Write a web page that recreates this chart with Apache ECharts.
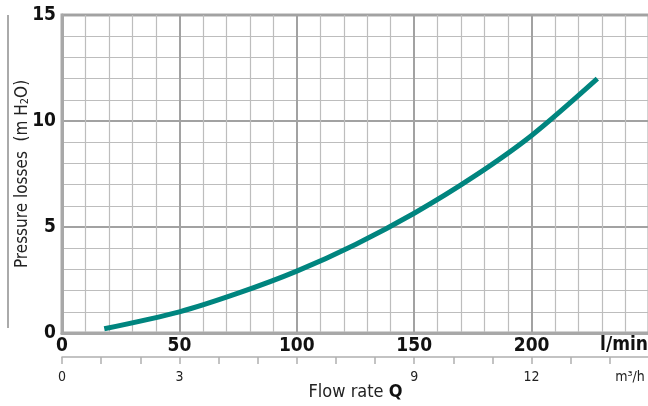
<!DOCTYPE html>
<html><head><meta charset="utf-8">
<script src="https://cdn.jsdelivr.net/npm/echarts@6/dist/echarts.min.js"></script>
<style>html,body{margin:0;padding:0;background:#fff}#c{width:648px;height:406px}</style>
</head><body><div id="c"></div>
<script>
// Flow rate (l/min) and pressure loss (m H2O)
var flowLmin = [18, 50, 75, 100, 125, 150, 175, 200, 228];
var pressure = [0.2, 1.0, 1.88, 2.92, 4.18, 5.65, 7.35, 9.32, 12.0];
var m3hLabels = [0, 3, 9, 12];
var FONT = "'Liberation Sans Narrow','DejaVu Sans Condensed','Roboto Condensed','Noto Sans',sans-serif";

var chart = echarts.init(document.getElementById('c'));
var data = flowLmin.map(function (x, i) { return [x, pressure[i]]; });
chart.setOption({
  animation: false,
  grid: { left: 62, top: 15, width: 587, height: 318, show: true, borderColor: '#a8a8a8', borderWidth: 3,
    containLabel: false, outerBoundsMode: 'none' },
  xAxis: [{
    type: 'value', min: 0, max: 250, interval: 50,
    axisLine: { show: true, lineStyle: { color: '#a8a8a8', width: 3 } },
    axisTick: { show: false },
    axisLabel: { color: '#111', fontFamily: FONT, fontWeight: 'bold', fontSize: 19, margin: 4,
      formatter: function (v) { return v >= 250 ? '' : String(v); } },
    splitLine: { show: true, lineStyle: { color: '#a2a2a2', width: 2 } },
    minorTick: { show: false, splitNumber: 5 },
    minorSplitLine: { show: true, lineStyle: { color: '#bdbdbd', width: 1.2 } }
  }, {
    type: 'value', min: 0, max: 15, interval: 1, position: 'bottom', offset: 24,
    axisLine: { show: true, lineStyle: { color: '#b0b0b0', width: 1.5 } },
    axisTick: { show: true, length: 7, lineStyle: { color: '#b0b0b0', width: 1.5 } },
    axisLabel: { color: '#222', fontFamily: FONT, fontSize: 14, margin: 13,
      formatter: function (v) { return m3hLabels.indexOf(v) >= 0 ? String(v) : ''; } },
    splitLine: { show: false },
    name: 'Flow rate {b|Q}', nameLocation: 'middle', nameGap: 26, nameMoveOverlap: false,
    nameTextStyle: { color: '#222', fontFamily: FONT, fontSize: 18,
      rich: { b: { fontFamily: FONT, fontSize: 18, fontWeight: 'bold', color: '#111' } } }
  }],
  yAxis: {
    type: 'value', min: 0, max: 15, interval: 5,
    axisLine: { show: true, lineStyle: { color: '#a8a8a8', width: 3 } },
    axisTick: { show: false },
    axisLabel: { color: '#111', fontFamily: FONT, fontWeight: 'bold', fontSize: 19, margin: 6 },
    splitLine: { show: true, lineStyle: { color: '#a2a2a2', width: 2 } },
    minorTick: { show: false, splitNumber: 5 },
    minorSplitLine: { show: true, lineStyle: { color: '#bdbdbd', width: 1.2 } },
    name: 'Pressure losses  (m H{s|2}O)', nameLocation: 'middle', nameGap: 31, nameMoveOverlap: false,
    nameTextStyle: { color: '#222', fontFamily: FONT, fontSize: 17,
      rich: { s: { fontFamily: FONT, fontSize: 11, color: '#222', verticalAlign: 'bottom', padding: [6, 0, 0, 0] } } }
  },
  graphic: [
    { type: 'line', shape: { x1: 8, y1: 15, x2: 8, y2: 328 }, style: { stroke: '#aaaaaa', lineWidth: 2 } },
    { type: 'text', x: 624, y: 345, style: { text: 'l/min', fill: '#111', font: 'bold 19px ' + FONT, textAlign: 'center', textVerticalAlign: 'middle' } },
    { type: 'text', x: 630, y: 377, style: { text: 'm³/h', fill: '#222', font: '14px ' + FONT, textAlign: 'center', textVerticalAlign: 'middle' } }
  ],
  series: [{
    type: 'line', xAxisIndex: 0, data: data, smooth: 0.3, showSymbol: false,
    lineStyle: { color: '#00857f', width: 5 }, clip: true
  }]
});
</script></body></html>
